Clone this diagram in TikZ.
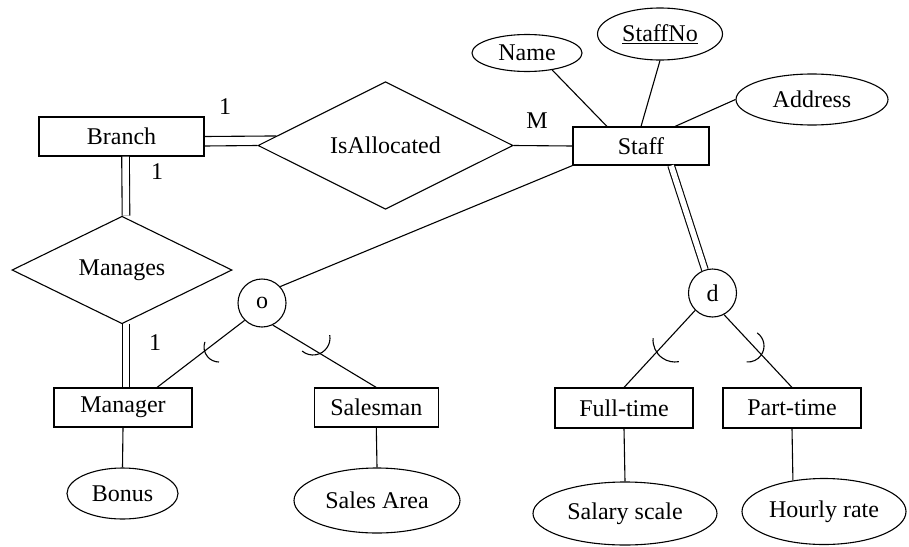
\documentclass[tikz,border=0pt]{standalone}
\usepackage{fontspec}
\setmainfont{Liberation Serif}
\usetikzlibrary{shapes.geometric}
\begin{document}
\begin{tikzpicture}[x=1pt,y=1pt,line width=1.1pt,
  font=\fontsize{24}{28}\selectfont,
  ent/.style={draw, rectangle, minimum height=39pt, inner sep=0pt},
  att/.style={draw, ellipse, inner sep=0pt},
  rel/.style={draw, diamond, inner sep=0pt},
  dj/.style={draw, circle, minimum size=48pt, inner sep=0pt},
  lbl/.style={inner sep=0pt},
  dbl/.style={double, double distance=6.5pt},
  subarc/.style={line width=1.1pt}]
\useasboundingbox (0,0) rectangle (909,-546);

% entities
\node[ent, minimum width=165pt] (branch) at (121.5,-136.5) {Branch};
\node[ent, minimum width=136pt, minimum height=38pt] (staff) at (641,-146) {Staff};
\node[ent, minimum width=138pt] (manager) at (123,-407.5) {Manager};
\node[ent, minimum width=124pt] (salesman) at (376.3,-407.5) {Salesman};
\node[ent, minimum width=138pt, minimum height=40pt] (fulltime) at (624,-408) {Full-time};
\node[ent, minimum width=138pt, minimum height=40pt] (parttime) at (792,-408) {Part-time};

% relationships
\node[rel, minimum width=255pt, minimum height=104pt] (isalloc) at (385.5,-145.5) {IsAllocated};
\node[rel, minimum width=220pt, minimum height=90pt] (manages) at (122,-270) {Manages};

% specialisation circles
\node[dj] (o) at (262,-303) {o};
\node[dj] (d) at (712.5,-293) {d};

% attributes
\node[att, minimum width=110pt, minimum height=37pt] (name) at (527,-53) {Name};
\node[att, minimum width=125pt, minimum height=52pt] (staffno) at (660,-34) {\underline{StaffNo}};
\node[att, minimum width=152pt, minimum height=51pt] (address) at (812,-99.5) {Address};
\node[att, minimum width=111pt, minimum height=51pt] (bonus) at (122.5,-493.5) {Bonus};
\node[att, minimum width=166pt, minimum height=65pt] (salesarea) at (377,-500.5) {Sales Area};
\node[att, minimum width=184pt, minimum height=63pt] (salary) at (625,-513.5) {Salary scale};
\node[att, minimum width=164pt, minimum height=66pt] (hourly) at (824,-511.5) {Hourly rate};

% cardinality labels
\node[lbl] (c1) at (225,-107) {1};
\node[lbl] (cm) at (537,-121) {M};
\node[lbl] (c2) at (157,-172) {1};
\node[lbl] (c3) at (155,-343) {1};

% Branch -- IsAllocated (double)
\draw (branch.east) -- (isalloc.175.4);
\draw ([yshift=-9.5pt]branch.east) -- (isalloc.west);
% IsAllocated -- Staff
\draw (isalloc.east) -- (staff.west);
% Branch -- Manages -- Manager (double)
\draw[dbl] ([xshift=4pt]branch.south) -- ([xshift=4pt]manages.north);
\draw[dbl] ([xshift=4pt]manages.south) -- ([xshift=3pt]manager.north);

% Staff attributes
\draw (name.-34) -- ([xshift=-34pt]staff.north);
\draw (staffno.south) -- (staff.north);
\draw (address.west) -- ([xshift=34pt]staff.north);

% Staff -- o (overlapping)
\draw (o.42) -- (staff.south west);
\draw (o.225) -- ([xshift=34pt]manager.north);
\draw (o.296) -- (salesman.north);

% Staff -- d (disjoint, mandatory)
\draw[dbl, double distance=5.5pt] (staff.-33) -- (d);
\draw (d.225) -- (fulltime.north);
\draw (d.-62) -- (parttime.north);

% subset arcs
\draw[subarc] ([shift={(160:15)}]219,-347) arc[start angle=160, end angle=270, radius=15];
\draw[subarc] ([shift={(10:17)}]313,-338) arc[start angle=10, end angle=-130, radius=17];
\draw[subarc] ([shift={(175:22)}]675,-340) arc[start angle=175, end angle=280, radius=22];
\draw[subarc] ([shift={(55:16)}]748,-346) arc[start angle=55, end angle=-95, radius=16];

% subclass attributes
\draw (manager.south) -- (bonus.north);
\draw (salesman.south) -- (salesarea.north);
\draw (fulltime.south) -- (salary.north);
\draw (parttime.south) -- (hourly.135.5);
\end{tikzpicture}
\end{document}
